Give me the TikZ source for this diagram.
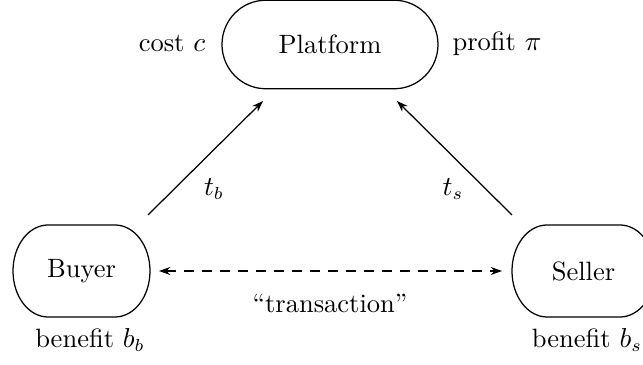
\documentclass[tikz,border=0pt]{standalone}
\usetikzlibrary{arrows.meta}
\newcommand{\roundframe}[4]{%
  \begin{scope}[shift={(#1.center)},x=1pt,y=1pt]
    \draw[line width=0.5pt] (-#2+#4,#3) -- (#2-#4,#3)
      arc[start angle=90,end angle=-90,x radius=#4,y radius=#3]
      -- (-#2+#4,-#3)
      arc[start angle=270,end angle=90,x radius=#4,y radius=#3] -- cycle;
  \end{scope}}
\begin{document}
\begin{tikzpicture}[x=0.4pt,y=-0.4pt,
  every node/.style={font=\fontsize{10.6pt}{13pt}\selectfont},
  box/.style={inner sep=0pt},
  conn/.style={line width=0.5pt,-{Stealth[length=4.5pt,width=3.2pt]}},
  dconn/.style={line width=0.5pt,dash pattern=on 4pt off 3.2pt,{Stealth[length=4.5pt,width=3.2pt]}-{Stealth[length=4.5pt,width=3.2pt]}}]
\useasboundingbox (0,0) rectangle (643,365);
\node[box,minimum width=86.4pt,minimum height=35.4pt] (platform) at (330,44.5) {Platform};
\node[box,minimum width=54.8pt,minimum height=36.8pt] (buyer) at (81.5,271) {Buyer};
\node[box,minimum width=57.2pt,minimum height=36.8pt] (seller) at (583.5,271) {Seller};
\roundframe{platform}{43.2}{17.7}{17.5}
\roundframe{buyer}{27.4}{18.4}{14}
\roundframe{seller}{28.6}{18.4}{14}
\node (cost) at (172,44) {cost $c$};
\node (profit) at (497,44) {profit $\pi$};
\node (bb) at (90,340) {benefit $b_b$};
\node (bs) at (587,340) {benefit $b_s$};
\node (tb) at (214,189) {$t_b$};
\node (ts) at (453,189) {$t_s$};
\node (tr) at (330,303) {``transaction''};
\coordinate (tb0) at (148,215);
\coordinate (tb1) at (263,101);
\coordinate (ts0) at (512,215);
\coordinate (ts1) at (397,101);
\coordinate (d0) at (159,271);
\coordinate (d1) at (502,271);
\draw[conn] (tb0) -- (tb1);
\draw[conn] (ts0) -- (ts1);
\draw[dconn] (d0) -- (d1);
\end{tikzpicture}
\end{document}
